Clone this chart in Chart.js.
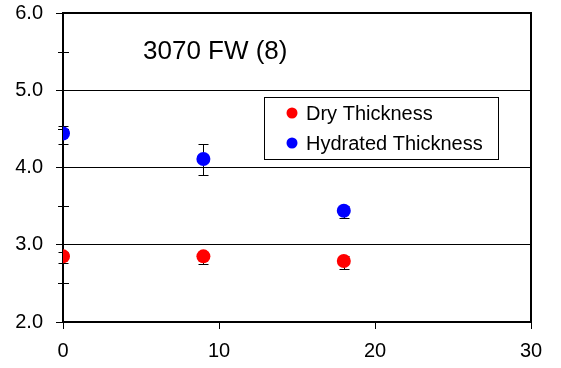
<!DOCTYPE html>
<html>
<head>
<meta charset="utf-8">
<script src="https://cdn.jsdelivr.net/npm/chart.js@4/dist/chart.umd.min.js"></script>
<style>
  html, body { margin: 0; padding: 0; background: #fff; }
  #wrap { width: 561px; height: 368px; }
</style>
</head>
<body>
<div id="wrap"><canvas id="grafico"></canvas></div>
<script>
// datos
const tiempos = [0, 9, 18];
const secoValores = [2.85, 2.85, 2.79];
const secoErrMas = [0.06, 0.06, 0.06];
const secoErrMenos = [0.08, 0.1, 0.1];
const hidratadoValores = [4.44, 4.11, 3.44];
const hidratadoErrMas = [0.1, 0.19, 0.06];
const hidratadoErrMenos = [0.14, 0.21, 0.1];
const etiquetas = ["Dry Thickness", "Hydrated Thickness"];
const titulo = "3070 FW (8)";
const xTicks = [0, 10, 20, 30];
const yTicks = [2, 3, 4, 5, 6];

const fuente = "'Liberation Sans', Arial, sans-serif";

const errores = [
  { mas: secoErrMas, menos: secoErrMenos },
  { mas: hidratadoErrMas, menos: hidratadoErrMenos },
];

// marco, ticks menores y barras de error
const decoracion = {
  id: "decoracion",
  beforeDatasetsDraw(chart) {
    const { ctx, chartArea: a, scales } = chart;
    const y = scales.y;
    ctx.save();
    ctx.strokeStyle = "#000";
    // marco
    ctx.lineWidth = 2;
    ctx.strokeRect(a.left, a.top, a.right - a.left, a.bottom - a.top);
    // ticks menores que cruzan el eje
    ctx.lineWidth = 1;
    for (let v = 2.5; v < 6; v += 1) {
      const py = Math.round(y.getPixelForValue(v)) + 0.5;
      ctx.beginPath();
      ctx.moveTo(a.left - 5, py);
      ctx.lineTo(a.left + 6, py);
      ctx.stroke();
    }
    // barras de error
    chart.data.datasets.forEach((ds, i) => {
      ds.data.forEach((p, j) => {
        const px = Math.round(scales.x.getPixelForValue(p.x)) + 0.5;
        const top = Math.round(y.getPixelForValue(p.y + errores[i].mas[j])) + 0.5;
        const bot = Math.round(y.getPixelForValue(p.y - errores[i].menos[j])) + 0.5;
        ctx.beginPath();
        ctx.moveTo(px, top);
        ctx.lineTo(px, bot);
        ctx.moveTo(px - 5, top);
        ctx.lineTo(px + 5, top);
        ctx.moveTo(px - 5, bot);
        ctx.lineTo(px + 5, bot);
        ctx.stroke();
      });
    });
    ctx.restore();
  },
  afterDraw(chart) {
    const { ctx } = chart;
    ctx.save();
    ctx.fillStyle = "#000";
    ctx.font = "26px " + fuente;
    ctx.textBaseline = "alphabetic";
    ctx.fillText(titulo, 143, 59);

    // leyenda
    ctx.lineWidth = 1;
    ctx.strokeStyle = "#000";
    ctx.fillStyle = "#fff";
    ctx.fillRect(264, 97, 234, 62);
    ctx.strokeRect(264.5, 97.5, 234, 62);
    ctx.font = "20px " + fuente;
    ctx.textBaseline = "middle";
    chart.data.datasets.forEach((ds, i) => {
      const cy = 113 + i * 30;
      ctx.fillStyle = ds.backgroundColor;
      ctx.beginPath();
      ctx.arc(292, cy, 5.5, 0, Math.PI * 2);
      ctx.fill();
      ctx.fillStyle = "#000";
      ctx.fillText(ds.label, 306, cy + 1);
    });
    ctx.restore();
  },
};

new Chart(document.getElementById("grafico"), {
  type: "scatter",
  data: {
    datasets: [
      {
        label: etiquetas[0],
        data: tiempos.map((t, i) => ({ x: t, y: secoValores[i] })),
        backgroundColor: "#ff0000",
        borderWidth: 0,
        pointRadius: 7,
        pointHoverRadius: 7,
      },
      {
        label: etiquetas[1],
        data: tiempos.map((t, i) => ({ x: t, y: hidratadoValores[i] })),
        backgroundColor: "#0000ff",
        borderWidth: 0,
        pointRadius: 7,
        pointHoverRadius: 7,
      },
    ],
  },
  options: {
    responsive: true,
    maintainAspectRatio: false,
    animation: false,
    layout: { padding: { top: 13, right: 30, left: 0, bottom: 0 } },
    plugins: {
      legend: { display: false },
      tooltip: { enabled: false },
    },
    scales: {
      x: {
        type: "linear",
        min: 0,
        max: 30,
        afterBuildTicks: (s) => { s.ticks = xTicks.map((v) => ({ value: v })); },
        afterFit: (s) => { s.height = 46; s.paddingLeft = 0; s.paddingRight = 0; },
        ticks: {
          color: "#000",
          font: { family: fuente, size: 20 },
          padding: 10,
          maxRotation: 0,
          autoSkip: false,
        },
        grid: {
          drawOnChartArea: false,
          tickLength: 7,
          tickColor: "#000",
          tickWidth: 1,
        },
        border: { display: false },
      },
      y: {
        min: 2,
        max: 6,
        afterBuildTicks: (s) => { s.ticks = yTicks.map((v) => ({ value: v })); },
        afterFit: (s) => { s.width = 63; s.paddingTop = 0; s.paddingBottom = 0; },
        ticks: {
          color: "#000",
          font: { family: fuente, size: 20 },
          padding: 13,
          autoSkip: false,
          callback: (v) => v.toFixed(1),
        },
        grid: {
          color: (c) => (c.tick && c.tick.value > 2 && c.tick.value < 6 ? "#000" : "rgba(0,0,0,0)"),
          lineWidth: 1,
          tickLength: 7,
          tickColor: "#000",
          tickWidth: 1,
        },
        border: { display: false },
      },
    },
  },
  plugins: [decoracion],
});
</script>
</body>
</html>
